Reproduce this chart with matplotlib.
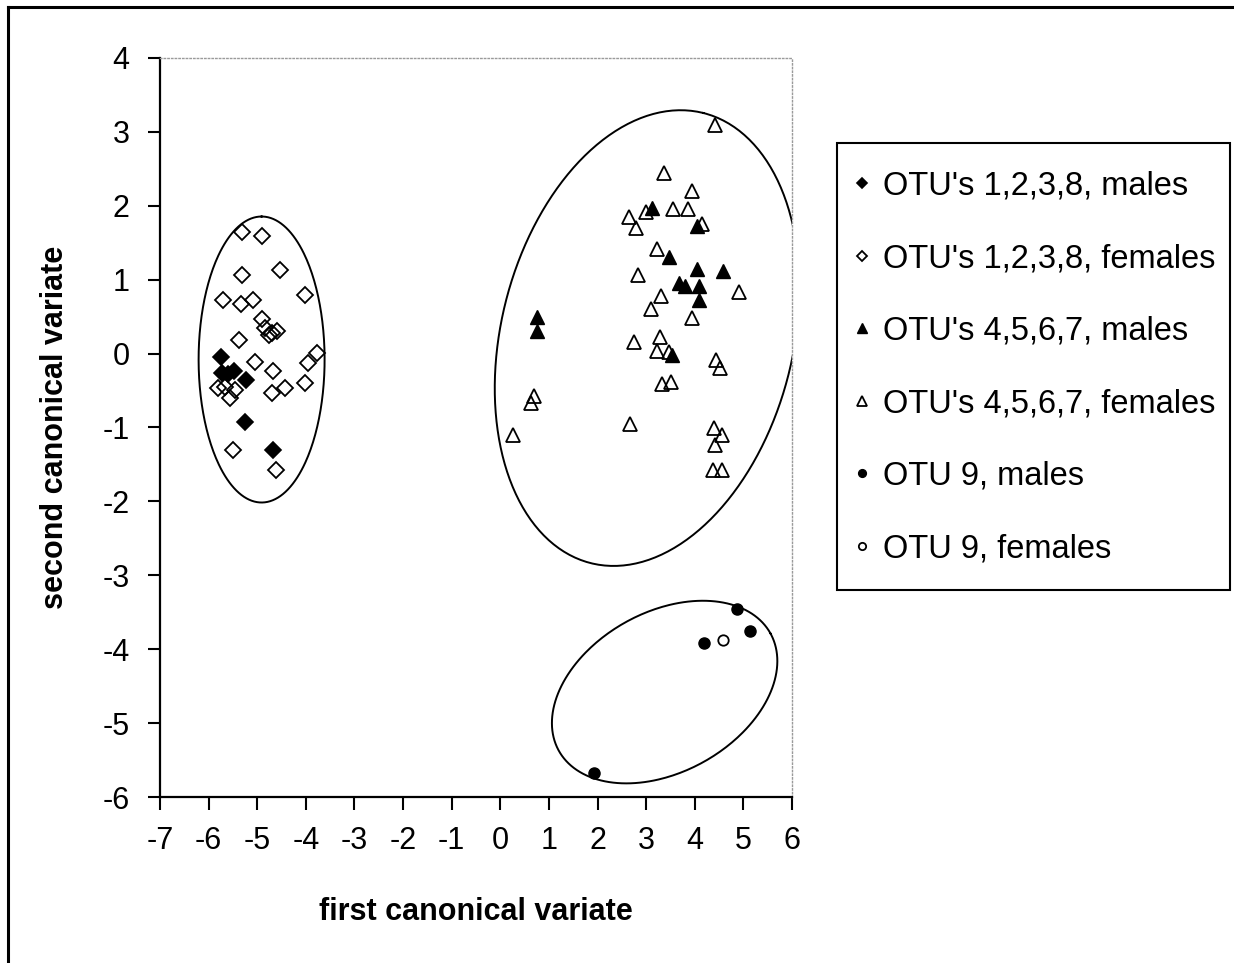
import numpy as np
import matplotlib.pyplot as plt
from matplotlib.lines import Line2D
from matplotlib.patches import Rectangle

plt.rcParams['font.family'] = ['Liberation Sans', 'DejaVu Sans']
plt.rcParams['axes.unicode_minus'] = False

# OTU's 1,2,3,8
m1238_x = [-5.75, -5.73, -5.60, -5.47, -5.23, -5.25, -4.67]
m1238_y = [-0.04, -0.26, -0.27, -0.24, -0.36, -0.93, -1.30]
f1238_x = [-5.32, -4.91, -5.32, -4.53, -5.70, -5.34, -5.08, -4.02, -4.91, -4.84,
           -4.70, -4.60, -4.75, -5.37, -5.05, -4.67, -3.95, -3.78, -4.02, -4.70,
           -4.43, -5.80, -5.66, -5.46, -5.56, -5.50, -4.61]
f1238_y = [1.65, 1.59, 1.06, 1.13, 0.73, 0.67, 0.73, 0.79, 0.47, 0.34,
           0.28, 0.30, 0.25, 0.18, -0.11, -0.23, -0.13, 0.01, -0.40, -0.53,
           -0.47, -0.47, -0.45, -0.49, -0.60, -1.30, -1.58]

# OTU's 4,5,6,7
m4567_x = [3.11, 4.05, 3.46, 4.04, 4.59, 3.68, 3.80, 4.08, 4.08, 0.76, 0.75, 3.53]
m4567_y = [1.97, 1.72, 1.31, 1.15, 1.12, 0.95, 0.91, 0.91, 0.73, 0.50, 0.30, -0.02]
f4567_x = [4.42, 3.37, 3.94, 2.64, 2.79, 3.00, 3.55, 3.87, 4.14, 3.22,
           2.84, 4.90, 3.30, 3.10, 3.94, 2.74, 3.28, 3.22, 3.48, 4.44,
           4.52, 3.32, 3.52, 0.70, 0.63, 2.66, 0.26, 4.40, 4.55, 4.42,
           4.37, 4.57]
f4567_y = [3.09, 2.45, 2.20, 1.85, 1.70, 1.91, 1.95, 1.95, 1.76, 1.42,
           1.06, 0.84, 0.78, 0.60, 0.48, 0.16, 0.23, 0.03, 0.02, -0.09,
           -0.20, -0.41, -0.39, -0.57, -0.67, -0.95, -1.10, -1.01, -1.10, -1.24,
           -1.57, -1.57]

# OTU 9
m9_x = [4.87, 5.14, 4.18, 1.92]
m9_y = [-3.46, -3.76, -3.92, -5.67]
f9_x = [4.59]
f9_y = [-3.87]

# group ellipses: centre (data), semi-axes (px), angle (deg)
ell_cx = [-4.91, 3.02, 3.38]
ell_cy = [-0.08, 0.21, -4.58]
ell_a = [143, 232, 121]
ell_b = [63, 146, 80]
ell_ang = [90, 76, 29]

W, H = 1234, 963
fig = plt.figure(figsize=(W / 100, H / 100), dpi=100)
ax = fig.add_axes([160 / W, 1 - 797 / H, 632 / W, 739 / H])
ax.set_xlim(-7, 6)
ax.set_ylim(-6, 4)

px_x = 632 / 13
px_y = 739 / 10
t = np.linspace(0, 2 * np.pi, 300)
for cx, cy, a, b, ang in zip(ell_cx, ell_cy, ell_a, ell_b, ell_ang):
    phi = np.radians(ang)
    u, v = a * np.cos(t), b * np.sin(t)
    dx = u * np.cos(phi) - v * np.sin(phi)
    dy = u * np.sin(phi) + v * np.cos(phi)
    ax.plot(cx + dx / px_x, cy + dy / px_y, color='black', lw=1.4)

ax.plot(m1238_x, m1238_y, 'D', ms=8, color='black', mec='black', mew=1.2,
        label="OTU's 1,2,3,8, males")
ax.plot(f1238_x, f1238_y, 'D', ms=8, mfc='none', mec='black', mew=1.3,
        label="OTU's 1,2,3,8, females")
ax.plot(m4567_x, m4567_y, '^', ms=10, color='black', mec='black',
        label="OTU's 4,5,6,7, males")
ax.plot(f4567_x, f4567_y, '^', ms=10, mfc='none', mec='black', mew=1.3,
        label="OTU's 4,5,6,7, females")
ax.plot(m9_x, m9_y, 'o', ms=8, color='black', label='OTU 9, males')
ax.plot(f9_x, f9_y, 'o', ms=7.5, mfc='none', mec='black', mew=1.3,
        label='OTU 9, females')

ax.set_xticks(range(-7, 7))
ax.set_yticks(range(-6, 5))
ax.tick_params(direction='out', length=9, width=1.5, labelsize=22)
ax.tick_params(axis='y', pad=13)
ax.tick_params(axis='x', pad=12)
for s in ['left', 'bottom']:
    ax.spines[s].set_linewidth(1.6)
for s in ['top', 'right']:
    ax.spines[s].set_color('#9a9a9a')
    ax.spines[s].set_linewidth(1.0)
    ax.spines[s].set_linestyle(':')

ax.set_xlabel('first canonical variate', fontsize=22, fontweight='bold')
ax.set_ylabel('second canonical variate', fontsize=22, fontweight='bold')
ax.xaxis.set_label_coords(0.5, (797 - 897) / 739)
ax.yaxis.set_label_coords((70 - 160) / 632, 0.5)

leg = ax.legend(loc='upper left', bbox_to_anchor=(831 / W, 1 - 143 / H),
                bbox_transform=fig.transFigure, fontsize=23.5, frameon=False,
                numpoints=1, markerscale=0.7,
                borderpad=0.85, labelspacing=1.27, handlelength=0.2,
                handletextpad=0.55, borderaxespad=0)
fig.add_artist(Rectangle((837 / W, 1 - 590 / H), (1230 - 837) / W, (590 - 143) / H,
                         fill=False, edgecolor='black', lw=1.5,
                         transform=fig.transFigure))

# outer frame (left and top edges visible)
fig.add_artist(Line2D([8 / W, 8 / W], [0, 1 - 7 / H], color='black', lw=2.2))
fig.add_artist(Line2D([8 / W, 1], [1 - 7 / H, 1 - 7 / H], color='black', lw=2.2))

fig.savefig('out.png', dpi=100)
